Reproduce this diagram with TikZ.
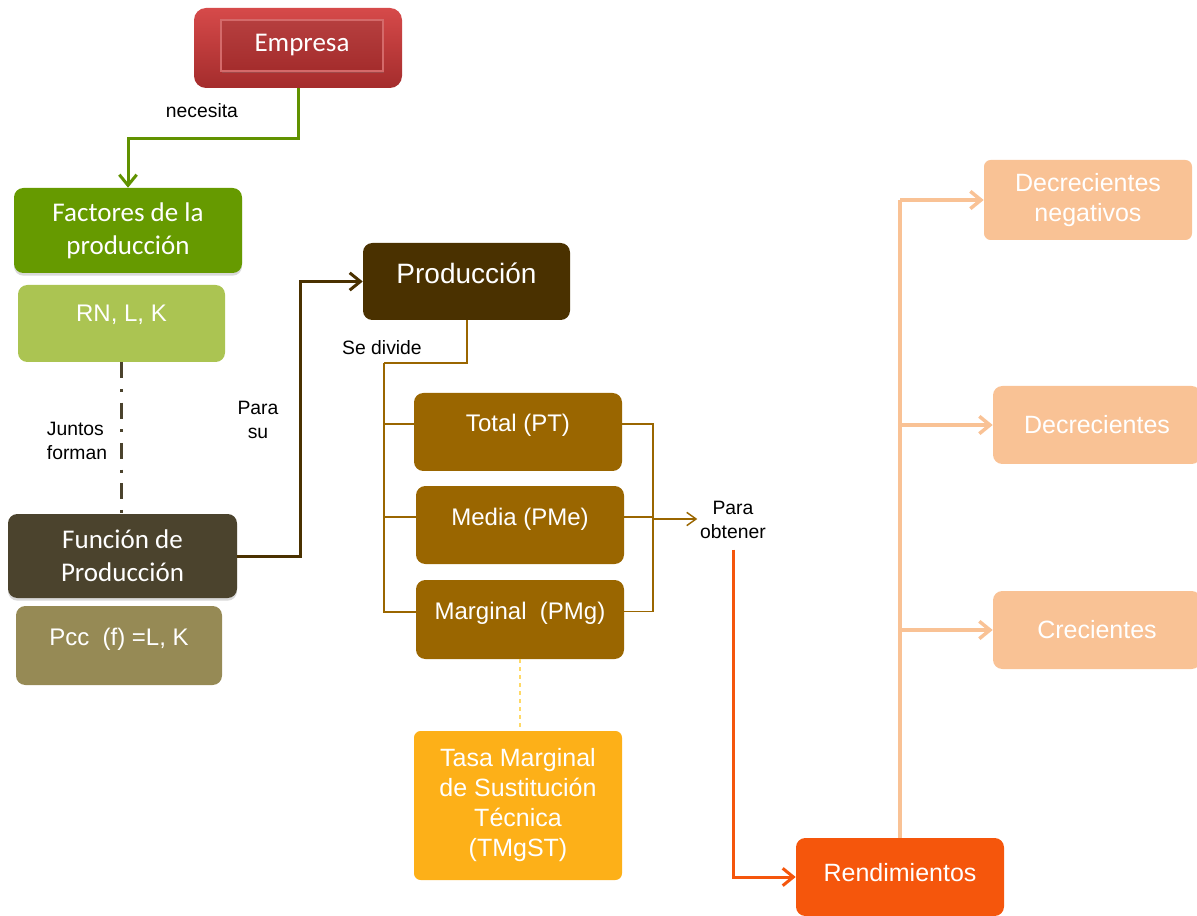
\documentclass[tikz,border=0pt]{standalone}
\usepackage{fontspec}
\setmainfont{Liberation Sans}
\newfontfamily\boxfont{Carlito}
\usetikzlibrary{arrows.meta,shadows}

\definecolor{empresatop}{HTML}{D64A4A}
\definecolor{empresabot}{HTML}{A42C2C}
\definecolor{empresaline}{HTML}{D46A6A}
\definecolor{factgreen}{HTML}{669A00}
\definecolor{rngreen}{HTML}{ABC452}
\definecolor{funcolive}{HTML}{4B432D}
\definecolor{pcckhaki}{HTML}{968A55}
\definecolor{proddark}{HTML}{4A3100}
\definecolor{prodbrown}{HTML}{9A6600}
\definecolor{tasaamber}{HTML}{FDB018}
\definecolor{rendorange}{HTML}{F5560C}
\definecolor{retpeach}{HTML}{F9C295}
\definecolor{tmgyellow}{HTML}{FFD966}

\begin{document}
\begin{tikzpicture}[x=0.75pt, y=-0.75pt,
    box/.style={rounded corners=7pt, text=white, align=center, inner sep=0pt},
    lbl/.style={font=\fontsize{14.5}{18}\selectfont, align=center, inner sep=2pt},
    textup/.style={text height=13pt, text depth=#1},
    arrowed/.style={-{Straight Barb[length=8pt,width=13pt]}}]

\useasboundingbox (0,0) rectangle (1197,916);

% Empresa
\node[box, rounded corners=9pt, minimum width=156pt, minimum height=60pt,
  top color=empresatop, bottom color=empresabot] (empresa) at (298,48) {};
\node[draw=empresaline, line width=0.8pt, top color=empresatop!85!black, bottom color=empresabot,
  minimum width=121.5pt, minimum height=38.25pt, text=white,
  font=\boxfont\fontsize{20.25}{24}\selectfont,
  drop shadow={opacity=0.3, shadow xshift=1pt, shadow yshift=-1.5pt}] (empresatxt) at (302,45.5) {Empresa};

% Factores de la produccion
\node[box, fill=factgreen, minimum width=171pt, minimum height=63.75pt,
  font=\boxfont\fontsize{20.25}{24.75}\selectfont,
  drop shadow={opacity=0.3, shadow xshift=0pt, shadow yshift=-2pt}] (factores) at (128,230.5) {Factores de la\\producción};
\node[box, fill=rngreen, minimum width=155.25pt, minimum height=57.75pt,
  font=\fontsize{18}{22}\selectfont, textup=15.75pt] (recursos) at (121.5,323.5) {RN, L, K};

% Funcion de produccion
\node[box, fill=funcolive, minimum width=171.75pt, minimum height=63pt,
  font=\boxfont\fontsize{20.25}{24.75}\selectfont,
  drop shadow={opacity=0.3, shadow xshift=0pt, shadow yshift=-2pt}] (funcion) at (122.5,556) {Función de\\Producción};
\node[box, fill=pcckhaki, minimum width=154.5pt, minimum height=59.25pt,
  font=\fontsize{18}{22}\selectfont, textup=12.75pt] (pcc) at (119,645.5) {Pcc\ \ (f) =L, K};

% Produccion and its parts
\node[box, fill=proddark, minimum width=155.25pt, minimum height=57.75pt,
  font=\fontsize{21}{25}\selectfont, textup=11.25pt, text height=15pt] (produccion) at (466.5,281.5) {Producción};
\node[box, fill=prodbrown, minimum width=156pt, minimum height=58.5pt,
  font=\fontsize{18}{22}\selectfont, textup=13.5pt] (total) at (518,432) {Total (PT)};
\node[box, fill=prodbrown, minimum width=156pt, minimum height=58.5pt,
  font=\fontsize{18}{22}\selectfont, textup=12pt] (media) at (520,525) {Media (PMe)};
\node[box, fill=prodbrown, minimum width=156pt, minimum height=59.25pt,
  font=\fontsize{18}{22}\selectfont, textup=12.75pt] (marginal) at (520,619.5) {Marginal\ \ (PMg)};
\node[box, rounded corners=5pt, fill=tasaamber, minimum width=156pt, minimum height=111.75pt,
  font=\fontsize{18.75}{22.5}\selectfont] (tasa) at (518,805.5) {Tasa Marginal\\de Sustitución\\Técnica\\(TMgST)};

% Rendimientos
\node[box, fill=rendorange, minimum width=156pt, minimum height=58.5pt,
  font=\fontsize{18.75}{22.5}\selectfont, textup=6pt, text height=13.4pt] (rend) at (900,877) {Rendimientos};
\node[box, rounded corners=5pt, fill=retpeach, minimum width=156pt, minimum height=60pt,
  font=\fontsize{18.75}{22.5}\selectfont] (dneg) at (1088,200) {Decrecientes\\negativos};
\node[box, fill=retpeach, minimum width=156pt, minimum height=58.5pt,
  font=\fontsize{18.75}{22.5}\selectfont] (decre) at (1097,425) {Decrecientes};
\node[box, fill=retpeach, minimum width=156pt, minimum height=58.5pt,
  font=\fontsize{18.75}{22.5}\selectfont] (crec) at (1097,630) {Crecientes};

% Labels
\node[lbl] (necesita) at (202,111) {necesita};
\node[lbl, align=left, anchor=west] (juntos) at (44,441) {Juntos\\forman};
\node[lbl] (parasu) at (258,420) {Para\\su};
\node[lbl] (sedivide) at (382,348) {Se divide};
\node[lbl] (obtener) at (733,520) {Para\\obtener};

% Connectors
\draw[factgreen!95!black, line width=2.25pt, arrowed] (empresa.south) -- ++(0,50) -| (factores.north);
\draw[funcolive, line width=2.5pt, dash pattern=on 12pt off 8pt on 2.25pt off 8pt]
  (recursos.south) -- (recursos.south |- funcion.north);
\draw[proddark, line width=2.25pt, arrowed] (funcion.east) -- ++(63,0) |- (produccion.west);

\coordinate (trunk) at (384,363);
\draw[prodbrown, line width=1.5pt] (produccion.south) |- (trunk);
\foreach \b in {total, media, marginal}
  \draw[prodbrown, line width=1.5pt] ([yshift=6pt]\b.west) -| (trunk);

\coordinate (join) at (653,519);
\foreach \b in {total, media, marginal}
  \draw[prodbrown, line width=1.1pt] ([yshift=6pt]\b.east) -| (join);
\draw[prodbrown, line width=1.1pt, -{Straight Barb[length=7pt,width=10pt]}] (join) -- (join -| obtener.west);

\draw[tmgyellow, line width=0.8pt, dashed] (marginal.south) -- (marginal.south |- tasa.north);

\draw[rendorange, line width=2.25pt, arrowed] ([yshift=-6pt]obtener.south) |- (rend.west);

\draw[retpeach, line width=2.6pt] (rend.north) -- (rend.north |- dneg.west);
\foreach \b in {dneg, decre, crec}
  \draw[retpeach, line width=2.6pt, arrowed] (rend.north |- \b.west) -- (\b.west);

\end{tikzpicture}
\end{document}
